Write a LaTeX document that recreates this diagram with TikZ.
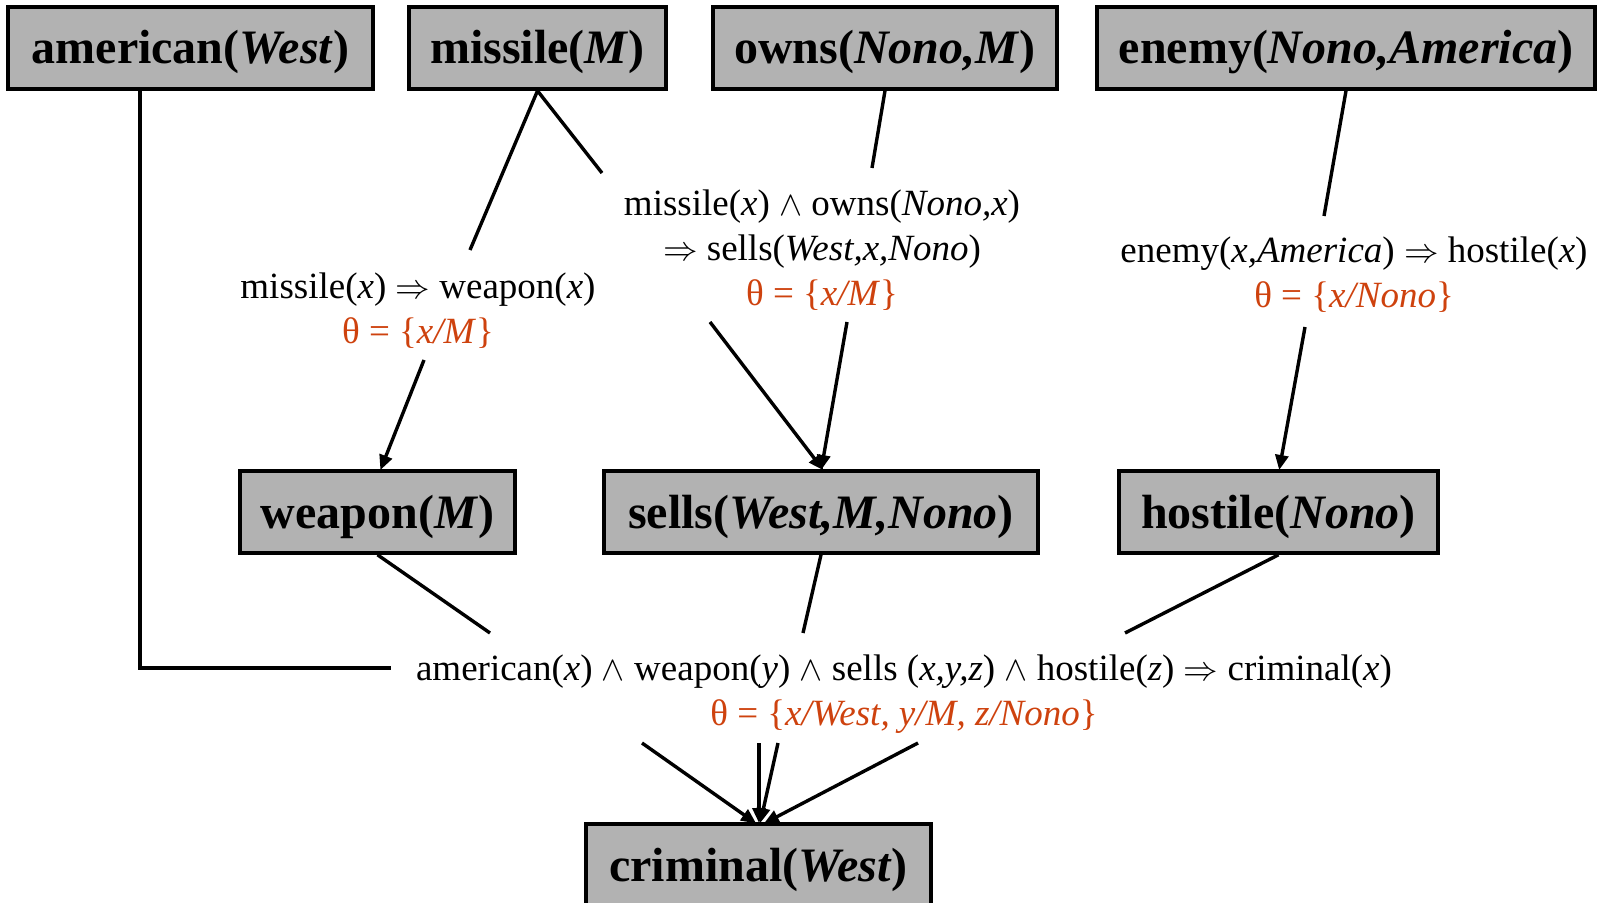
\documentclass[tikz,border=0pt]{standalone}
\usepackage{fontspec}
\setmainfont{Liberation Serif}
\usetikzlibrary{arrows.meta}
\definecolor{subst}{RGB}{206,66,14}
\definecolor{factfill}{gray}{0.70}
\tikzset{
  fact/.style={draw=black, line width=1.8pt, fill=factfill, inner sep=0pt,
    minimum height=41pt, text height=21pt, text depth=5pt,
    font=\fontsize{24}{28}\selectfont\bfseries},
  rule/.style={align=center, inner sep=0pt, font=\fontsize{18.5}{22.5}\selectfont},
  link/.style={line width=1.7pt},
  infer/.style={line width=1.7pt, -{Triangle[length=7.5pt,width=6.5pt]}, shorten >=0.5pt},
}
\newcommand{\thetaset}[1]{\textcolor{subst}{θ = \{#1\}}}
\begin{document}
\begin{tikzpicture}[x=0.5pt, y=-0.5pt]
\useasboundingbox (0,0) rectangle (1600,903);

% known facts
\node[fact, minimum width=182.5pt] (am) at (190.5,48) {american(\textit{West})};
\node[fact, minimum width=128.5pt] (mi) at (537.5,48) {missile(\textit{M})};
\node[fact, minimum width=172pt]   (ow) at (885,48)   {owns(\textit{Nono,M})};
\node[fact, minimum width=249pt]   (en) at (1346,48)  {enemy(\textit{Nono,America})};

% derived facts
\node[fact, minimum width=137.5pt] (we) at (377.5,512)  {weapon(\textit{M})};
\node[fact, minimum width=217pt]   (se) at (821,512)    {sells(\textit{West,M,Nono})};
\node[fact, minimum width=159.5pt] (ho) at (1278.5,512) {hostile(\textit{Nono})};
\node[fact, minimum width=172.5pt] (cr) at (758.5,865)  {criminal(\textit{West})};

% rules with their substitutions
\node[rule] (r1) at (418,311)
  {missile(\textit{x}) $\Rightarrow$ weapon(\textit{x})\\ \thetaset{\textit{x/M}}};
\node[rule] (r2) at (822,250)
  {missile(\textit{x}) $\wedge$ owns(\textit{Nono,x})\\
   $\Rightarrow$ sells(\textit{West,x,Nono})\\ \thetaset{\textit{x/M}}};
\node[rule] (r3) at (1354,275)
  {enemy(\textit{x,America}) $\Rightarrow$ hostile(\textit{x})\\ \thetaset{\textit{x/Nono}}};
\node[rule] (r4) at (904,694.5)
  {american(\textit{x}) $\wedge$ weapon(\textit{y}) $\wedge$ sells (\textit{x,y,z}) $\wedge$ hostile(\textit{z}) $\Rightarrow$ criminal(\textit{x})\\
   \thetaset{\textit{x/West, y/M, z/Nono}}};

% premise ends next to the rules
\coordinate (amIn) at (391,668);
\coordinate (miIn1) at (470,250);
\coordinate (miIn2) at (602,173);
\coordinate (owIn) at (872,168);
\coordinate (enIn) at (1324,216);
\coordinate (weIn) at (490,633);
\coordinate (seIn) at (803,633);
\coordinate (hoIn) at (1125,633);

% conclusion starts below the rules
\coordinate (r1Out) at (424,360);
\coordinate (r2OutA) at (710,322);
\coordinate (r2OutB) at (847,322);
\coordinate (r3Out) at (1305,327);
\coordinate (r4OutA) at (642,743);
\coordinate (r4OutB) at (759,743);
\coordinate (r4OutC) at (778,743);
\coordinate (r4OutD) at (918,743);

% tips on the conclusions
\coordinate (weTip) at (380,471);
\coordinate (seTipA) at (824,471);
\coordinate (seTipB) at (821,471);
\coordinate (hoTip) at (1279,471);
\coordinate (crTipA) at (757,824);
\coordinate (crTipB) at (759,824);
\coordinate (crTipC) at (760,824);
\coordinate (crTipD) at (763,824);

% premises into rules
\draw[link] (am.south -| 140,0) |- (amIn);
\draw[link] (mi.south) -- (miIn1);
\draw[link] (mi.south) -- (miIn2);
\draw[link] (ow.south) -- (owIn);
\draw[link] (en.south) -- (enIn);
\draw[link] (we.south) -- (weIn);
\draw[link] (se.south) -- (seIn);
\draw[link] (ho.south) -- (hoIn);

% rules into conclusions
\draw[infer] (r1Out) -- (weTip);
\draw[infer] (r2OutA) -- (seTipA);
\draw[infer] (r2OutB) -- (seTipB);
\draw[infer] (r3Out) -- (hoTip);
\draw[infer] (r4OutA) -- (crTipA);
\draw[infer] (r4OutB) -- (crTipB);
\draw[infer] (r4OutC) -- (crTipC);
\draw[infer] (r4OutD) -- (crTipD);
\end{tikzpicture}
\end{document}
